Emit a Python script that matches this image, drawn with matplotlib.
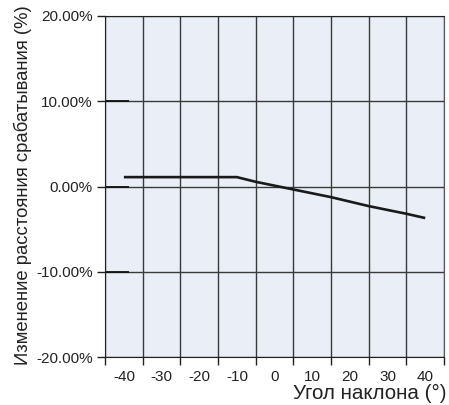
import numpy as np
import matplotlib
matplotlib.use('Agg')
import matplotlib.pyplot as plt
from matplotlib.ticker import FuncFormatter

plt.rcParams['font.family'] = ['Liberation Sans', 'DejaVu Sans']

# ---- data ----
tilt_deg = [-40, -10, -5, 0, 5, 15, 25, 35, 40]
change_pct = [1.1, 1.1, 0.55, 0.1, -0.35, -1.25, -2.3, -3.2, -3.7]

x_labels = [-40, -30, -20, -10, 0, 10, 20, 30, 40]
x_bounds = [-45, -35, -25, -15, -5, 5, 15, 25, 35, 45]
y_ticks = [-20, -10, 0, 10, 20]
y_inner = [-10, 0, 10]

fig = plt.figure(figsize=(4.49, 4.05), dpi=100)
ax = fig.add_axes([0.234, 0.1185, 0.755, 0.842])
ax.set_facecolor('#e9eef7')

ax.plot(tilt_deg, change_pct, color='#1a1a1a', lw=1.9, solid_capstyle='butt', zorder=3)

ax.set_xlim(-45, 45)
ax.set_ylim(-20, 20)

# column boundaries carry the gridlines and small ticks, labels sit in between
ax.set_xticks(x_bounds)
ax.set_xticklabels([])
ax.set_xticks(x_labels, minor=True)
ax.set_xticklabels([str(v) for v in x_labels], minor=True)
ax.tick_params(axis='x', which='major', direction='out', length=6, width=1, color='#222222')
ax.tick_params(axis='x', which='minor', length=0, labelsize=11, pad=9, labelcolor='#222222')
ax.grid(True, axis='x', which='major', color='#3a3a3a', lw=1)

ax.set_yticks(y_ticks)
ax.yaxis.set_major_formatter(FuncFormatter(lambda v, _: f'{v:.2f}%'))
ax.tick_params(axis='y', which='major', direction='out', length=6, width=1,
               color='#222222', labelsize=11, pad=3, labelcolor='#222222')
ax.yaxis.remove_overlapping_locs = False
ax.set_yticks(y_inner, minor=True)
ax.tick_params(axis='y', which='minor', direction='in', length=17, width=1.3,
               color='#111111')
ax.grid(True, axis='y', which='major', color='#3a3a3a', lw=1)
ax.set_axisbelow(True)

for side in ['left', 'top', 'bottom']:
    ax.spines[side].set_color('#222222')
ax.spines['right'].set_color('#555555')

ax.set_ylabel('Изменение расстояния срабатывания (%)', fontsize=13.3,
              color='#222222')
ax.yaxis.set_label_coords(-0.215, 0.505)
fig.text(0.995, 0.006, 'Угол наклона (°)', ha='right', va='bottom',
         fontsize=14.8, color='#222222')

fig.savefig('out.png', dpi=100)
